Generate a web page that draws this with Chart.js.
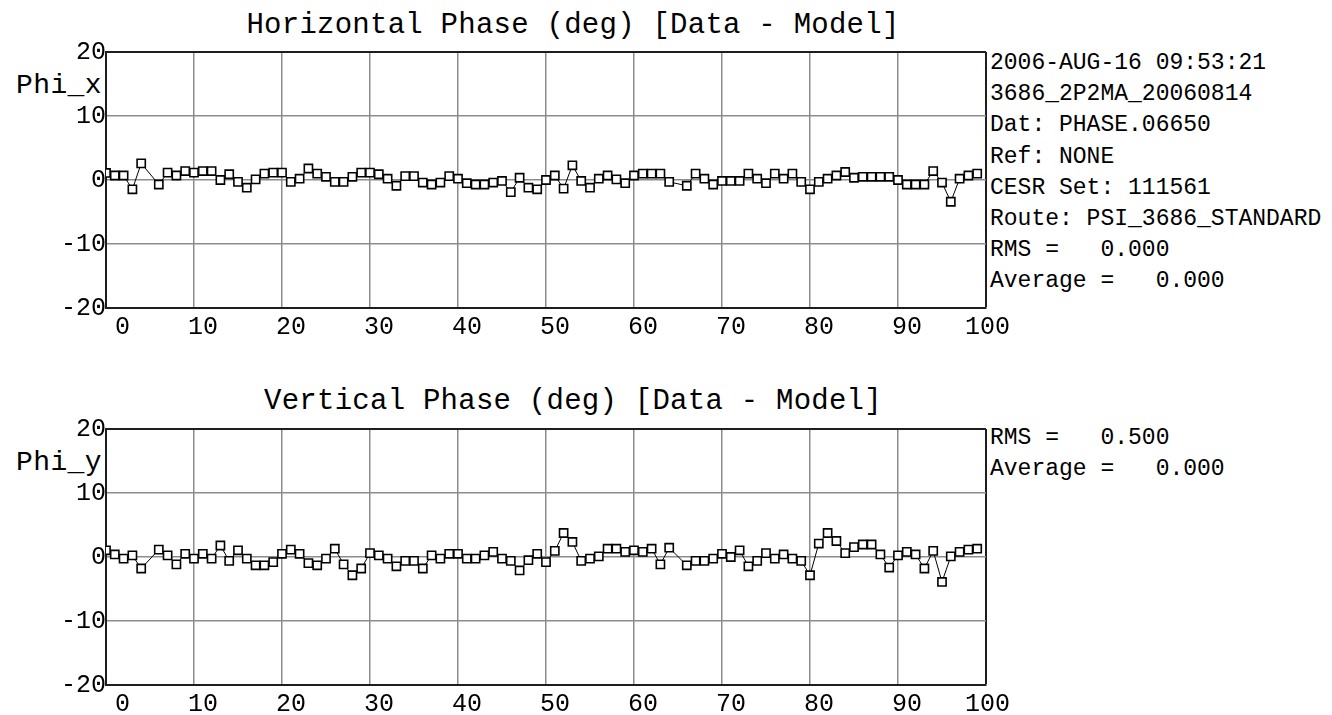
<!DOCTYPE html>
<html>
<head>
<meta charset="utf-8">
<script src="https://cdn.jsdelivr.net/npm/chart.js@4.4.1/dist/chart.umd.min.js"></script>
<style>
body { margin:0; background:#fff; width:1332px; height:715px; overflow:hidden; position:relative;
       font-family:"Liberation Mono","Courier New",monospace; color:#000; }
canvas { position:absolute; left:0; }
.txt { position:absolute; white-space:pre; }
.title { font-size:29px; line-height:29px; left:173px; width:800px; text-align:center; letter-spacing:0.25px; }
.axlab { font-size:28px; line-height:28px; left:16px; letter-spacing:0.4px; }
.info { font-size:23px; line-height:31.2px; left:990px; }
</style>
</head>
<body>
<div class="txt title" style="top:11px">Horizontal Phase (deg) [Data - Model]</div>
<div class="txt axlab" style="top:72px">Phi_x</div>
<div class="txt info" style="top:48px">2006-AUG-16 09:53:21
3686_2P2MA_20060814
Dat: PHASE.06650
Ref: NONE
CESR Set: 111561
Route: PSI_3686_STANDARD
RMS =   0.000
Average =   0.000</div>
<canvas id="hor" width="1040" height="350" style="top:0"></canvas>

<div class="txt title" style="top:387px">Vertical Phase (deg) [Data - Model]</div>
<div class="txt axlab" style="top:449px">Phi_y</div>
<div class="txt info" style="top:423px">RMS =   0.500
Average =   0.000</div>
<canvas id="ver" width="1040" height="339" style="top:376px"></canvas>

<script>
// detector numbers (5 and 65 have no reading)
const bpm = [
    0, 1, 2, 3, 4, 6, 7, 8, 9,
    10, 11, 12, 13, 14, 15, 16, 17, 18, 19,
    20, 21, 22, 23, 24, 25, 26, 27, 28, 29,
    30, 31, 32, 33, 34, 35, 36, 37, 38, 39,
    40, 41, 42, 43, 44, 45, 46, 47, 48, 49,
    50, 51, 52, 53, 54, 55, 56, 57, 58, 59,
    60, 61, 62, 63, 64, 66, 67, 68, 69,
    70, 71, 72, 73, 74, 75, 76, 77, 78, 79,
    80, 81, 82, 83, 84, 85, 86, 87, 88, 89,
    90, 91, 92, 93, 94, 95, 96, 97, 98, 99
];

const phi_x = [
    1.1, 0.7, 0.7, -1.45, 2.6, -0.7, 1.15, 0.7, 1.4,
    1.15, 1.4, 1.4, 0, 0.9, -0.3, -1.2, 0.1, 1.0, 1.15,
    1.15, -0.3, 0.2, 1.8, 1.0, 0.5, -0.3, -0.3, 0.5, 1.15,
    1.15, 0.9, 0.2, -0.9, 0.6, 0.6, -0.4, -0.7, -0.4, 0.6,
    0.2, -0.5, -0.7, -0.7, -0.4, -0.15, -1.9, 0.35, -1.2, -1.45,
    0, 0.7, -1.35, 2.3, -0.15, -1.2, 0.2, 0.7, 0.1, -0.5,
    0.7, 1.0, 1.0, 1.0, -0.3, -0.9, 1.0, 0.2, -0.7,
    -0.15, -0.15, -0.15, 1.0, 0.2, -0.5, 1.0, 0.2, 1.0, -0.3,
    -1.45, -0.3, 0.2, 0.7, 1.25, 0.35, 0.5, 0.5, 0.5, 0.5,
    0, -0.7, -0.7, -0.7, 1.4, -0.4, -3.4, 0.2, 0.7, 1.0
];

const phi_y = [
    1.05, 0.4, -0.25, 0.25, -1.8, 1.15, 0.25, -1.15, 0.5,
    -0.25, 0.5, -0.25, 1.8, -0.6, 1.05, -0.25, -1.3, -1.3, -0.8,
    0.5, 1.15, 0.5, -0.95, -1.3, -0.25, 1.3, -1.15, -2.85, -1.8,
    0.6, 0.25, -0.25, -1.45, -0.6, -0.6, -1.8, 0.25, -0.25, 0.5,
    0.5, -0.25, -0.25, 0.25, 0.8, -0.25, -0.6, -2.1, -0.5, 0.5,
    -0.8, 0.95, 3.75, 2.35, -0.6, -0.25, 0.1, 1.3, 1.3, 0.8,
    1.05, 0.8, 1.3, -1.15, 1.45, -1.3, -0.6, -0.6, -0.25,
    0.5, 0, 1.05, -1.45, -0.6, 0.6, -0.25, 0.4, -0.25, -0.6,
    -2.85, 2.1, 3.75, 2.5, 0.6, 1.55, 1.95, 1.95, 0.4, -1.65,
    0.25, 0.8, 0.4, -1.8, 0.95, -3.9, 0.1, 0.8, 1.15, 1.3
];

const x_range = [0, 100];
const y_range = [-20, 20];
const x_step = 10;
const y_step = 10;

const tick_font = { family: "'Liberation Mono', 'Courier New', monospace", size: 25 };
const grid_gray = '#8c8c8c';
const frame = '#1e1e1e';

function make_phase_chart(canvas_id, values, area_top, x_axis_height) {
    let ctx = document.getElementById(canvas_id).getContext('2d');
    return new Chart(ctx, {
        type: 'line',
        data: {
            datasets: [{
                data: bpm.map((b, i) => ({ x: b, y: values[i] })),
                borderColor: '#000',
                borderWidth: 1,
                pointStyle: 'rect',
                pointRadius: 5.8,
                pointBorderWidth: 1.6,
                pointBorderColor: '#000',
                pointBackgroundColor: '#fff',
                tension: 0,
                spanGaps: true
            }]
        },
        options: {
            responsive: false,
            animation: false,
            events: [],
            layout: { padding: { top: area_top, right: 54, left: 0, bottom: 0 } },
            plugins: { legend: { display: false }, tooltip: { enabled: false }, title: { display: false } },
            scales: {
                x: {
                    type: 'linear',
                    min: x_range[0],
                    max: x_range[1],
                    afterFit: s => { s.height = x_axis_height; },
                    border: { display: true, color: frame, width: 2 },
                    grid: {
                        drawTicks: false,
                        color: c => (c.tick && c.tick.value === x_range[1]) ? frame : grid_gray,
                        lineWidth: c => (c.tick && c.tick.value === x_range[1]) ? 2 : 1.5
                    },
                    ticks: {
                        stepSize: x_step,
                        align: 'end',
                        labelOffset: 24,
                        padding: 4,
                        color: '#000',
                        font: tick_font,
                        maxRotation: 0,
                        autoSkip: false
                    }
                },
                y: {
                    min: y_range[0],
                    max: y_range[1],
                    afterFit: s => { s.width = 106; },
                    border: { display: true, color: frame, width: 2 },
                    grid: {
                        drawTicks: false,
                        color: c => (c.tick && c.tick.value === y_range[1]) ? frame : grid_gray,
                        lineWidth: c => (c.tick && c.tick.value === y_range[1]) ? 2 : 1.5
                    },
                    ticks: {
                        stepSize: y_step,
                        padding: 0,
                        color: '#000',
                        font: tick_font
                    }
                }
            }
        }
    });
}

make_phase_chart('hor', phi_x, 52, 42);
make_phase_chart('ver', phi_y, 53, 30);
</script>
</body>
</html>
